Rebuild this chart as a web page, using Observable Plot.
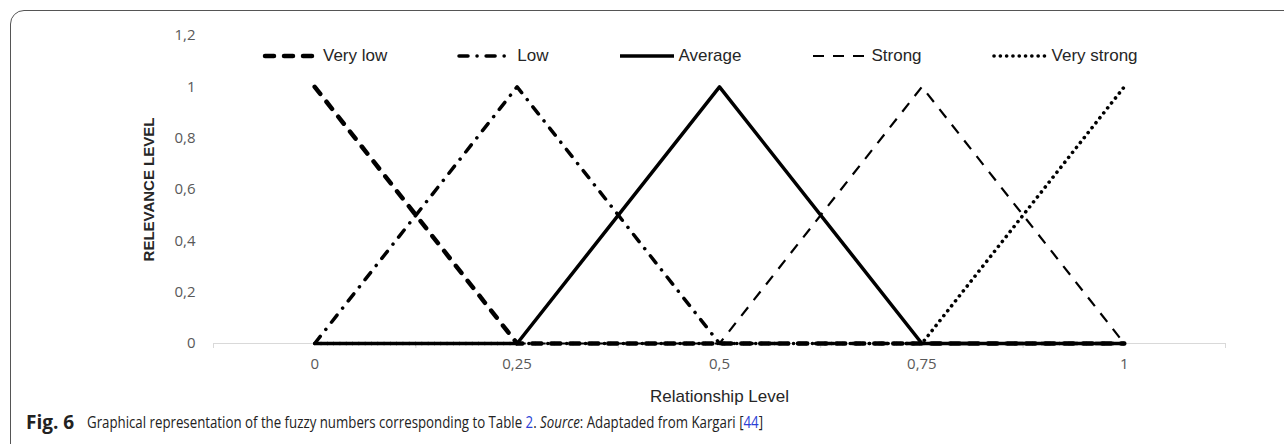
<!DOCTYPE html>
<html>
<head>
<meta charset="utf-8">
<script src="https://cdn.jsdelivr.net/npm/d3@7"></script>
<script src="https://cdn.jsdelivr.net/npm/@observablehq/plot@0.6"></script>
<style>
  html, body { margin: 0; padding: 0; background: #fff; }
  #wrap { position: relative; width: 1284px; height: 444px; overflow: hidden; }
  #frame { position: absolute; left: 10px; top: 10px; width: 1300px; height: 470px;
           border: 1.5px solid #555; border-radius: 14px; box-sizing: border-box; }
  #chart { position: absolute; left: 0; top: 0; }
  #legend { position: absolute; left: 262px; top: 46px; display: flex; gap: 69px;
            font-family: "Liberation Sans", Arial, sans-serif; font-size: 17px; color: #262626; }
  #legend .item { display: flex; align-items: center; }
  #legend svg { display: block; margin-right: 1px; }
  #fig { position: absolute; left: 26px; top: 409px; white-space: nowrap;
         font-family: "Open Sans", "Noto Sans", sans-serif; font-size: 19px; font-weight: 700; color: #222; }
  #captext { position: absolute; left: 87px; top: 410px; white-space: nowrap;
             font-family: "Open Sans", "Noto Sans", sans-serif; font-size: 17px; color: #222;
             transform: scaleX(0.78); transform-origin: 0 0; }
  #captext .ln { color: #2b3fd6; }
</style>
</head>
<body>
<div id="wrap">
  <div id="frame"></div>
  <div id="chart"></div>
  <div id="legend"></div>
  <div id="fig">Fig. 6</div>
  <div id="captext">Graphical representation of the fuzzy numbers corresponding to Table <span class="ln">2</span>. <i>Source</i>: Adaptaded from Kargari [<span class="ln">44</span>]</div>
</div>
<script>
// ---- data ----
const relationshipLevels = [0, 0.25, 0.5, 0.75, 1];
const seriesNames = ["Very low", "Low", "Average", "Strong", "Very strong"];
const veryLow    = [1, 0, 0, 0, 0];
const low        = [0, 1, 0, 0, 0];
const average    = [0, 0, 1, 0, 0];
const strong     = [0, 0, 0, 1, 0];
const veryStrong = [0, 0, 0, 0, 1];
const yTicks = [0, 0.2, 0.4, 0.6, 0.8, 1, 1.2];

const seriesValues = [veryLow, low, average, strong, veryStrong];
const styles = [
  {strokeWidth: 4.5, strokeDasharray: "9,10", strokeLinecap: "round"},
  {strokeWidth: 3.5, strokeDasharray: "9,9,0.1,9", strokeLinecap: "round"},
  {strokeWidth: 3.5, strokeDasharray: null, strokeLinecap: "butt"},
  {strokeWidth: 2.2, strokeDasharray: "11,9", strokeLinecap: "butt"},
  {strokeWidth: 3.6, strokeDasharray: "0.1,6.2", strokeLinecap: "round"}
];

const rows = seriesNames.flatMap((name, i) =>
  relationshipLevels.map((x, j) => ({series: name, x, y: seriesValues[i][j]})));

const step = relationshipLevels[1] - relationshipLevels[0];
const boundaries = d3.range(relationshipLevels.length + 1).map(i => relationshipLevels[0] - step / 2 + i * step);
const comma = d => String(d).replace(".", ",");

const lineMarks = seriesNames.map((name, i) =>
  Plot.line(rows.filter(r => r.series === name), {
    x: "x", y: "y", stroke: "black", strokeLinejoin: "round", ...styles[i]
  }));

const chart = Plot.plot({
  width: 1284,
  height: 410,
  marginLeft: 213,
  marginRight: 59,
  marginTop: 35,
  marginBottom: 67,
  style: {fontFamily: "'Open Sans', 'Noto Sans', sans-serif", fontSize: "15px", color: "#595959", background: "transparent"},
  x: {domain: [boundaries[0], boundaries[boundaries.length - 1]]},
  y: {domain: [0, 1.2]},
  marks: [
    Plot.ruleY([0], {stroke: "#d9d9d9", strokeWidth: 1}),
    Plot.axisX(boundaries, {tickSize: 5, stroke: "#d9d9d9", tickFormat: () => "", label: null}),
    Plot.axisX(relationshipLevels, {tickSize: 0, tickPadding: 15, tickFormat: comma, fontSize: 15,
      label: "Relationship Level", labelAnchor: "center", labelArrow: "none", labelOffset: 58}),
    Plot.axisY(yTicks, {tickSize: 0, tickPadding: 18, tickFormat: comma, fontSize: 15,
      label: "RELEVANCE LEVEL", labelAnchor: "center", labelArrow: "none", labelOffset: 70}),
    ...lineMarks
  ]
});
document.getElementById("chart").appendChild(chart);

// style axis titles
chart.querySelectorAll("[aria-label='x-axis label'] text, [aria-label='y-axis label'] text").forEach(t => {
  t.style.fontFamily = "'Liberation Sans', Arial, sans-serif";
  t.style.fill = "#262626";
});
const xl = chart.querySelector("[aria-label='x-axis label'] text");
if (xl) xl.style.fontSize = "17px";
const yl = chart.querySelector("[aria-label='y-axis label'] text");
if (yl) { yl.style.fontSize = "15px"; yl.style.fontWeight = "bold"; }

// legend
const legend = d3.select("#legend");
seriesNames.forEach((name, i) => {
  const item = legend.append("div").attr("class", "item");
  const svg = item.append("svg").attr("width", 60).attr("height", 20);
  svg.append("line").attr("x1", 3).attr("x2", 57).attr("y1", 10).attr("y2", 10)
    .attr("stroke", "black")
    .attr("stroke-width", styles[i].strokeWidth)
    .attr("stroke-dasharray", styles[i].strokeDasharray)
    .attr("stroke-linecap", styles[i].strokeLinecap);
  item.append("span").text(name);
});
</script>
</body>
</html>
